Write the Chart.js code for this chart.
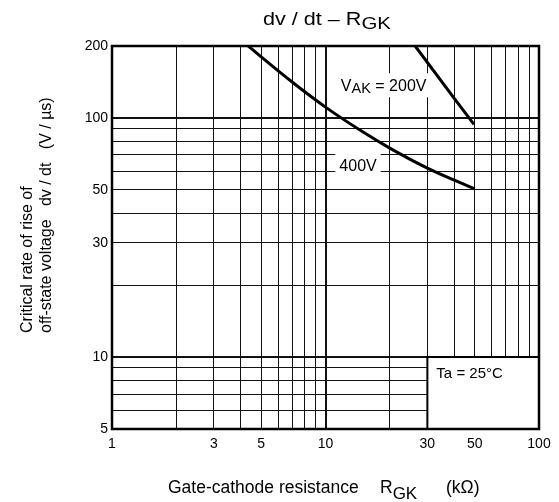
<!DOCTYPE html>
<html lang="en">
<head>
    <meta charset="UTF-8">
    <title>dv/dt - RGK</title>
    <script src="https://cdn.jsdelivr.net/npm/chart.js@4.4.1/dist/chart.umd.min.js"></script>
    <style>
        body { margin: 0; background: #fff; }
        .wrap { width: 559px; height: 502px; position: relative; }
    </style>
</head>
<body>
<div class="wrap"><canvas id="dvdtChart"></canvas></div>
<script>
    // values
    const rgk200 = [26.3, 40, 49.6];
    const dvdt200 = [200, 121, 94];
    const rgk400 = [4.35, 5, 7, 10, 15, 20, 30, 50];
    const dvdt400 = [200, 180, 141, 111, 87.3, 74.8, 61.7, 50.5];

    const xGrid = [1, 2, 3, 4, 5, 6, 7, 8, 9, 10, 20, 30, 40, 50, 60, 70, 80, 90, 100];
    const yGrid = [5, 6, 7, 8, 9, 10, 20, 30, 40, 50, 60, 70, 80, 90, 100, 200];
    const xLabels = [1, 3, 5, 10, 30, 50, 100];
    const yLabels = [5, 10, 30, 50, 100, 200];

    const FONT = "'Liberation Sans', Arial, sans-serif";

    function pts(xs, ys) {
        return xs.map((x, i) => ({ x: x, y: ys[i] }));
    }

    // draws pieces of text, some of them dropped as subscripts
    function subText(ctx, parts, x, y, size, subSize, drop) {
        let cx = x;
        parts.forEach(p => {
            ctx.font = (p.sub ? subSize : size) + 'px ' + FONT;
            if (p.at !== undefined) cx = p.at;
            ctx.fillText(p.t, cx, p.sub ? y + drop : y);
            cx += ctx.measureText(p.t).width;
        });
        return cx;
    }

    const decor = {
        id: 'decor',
        beforeDatasetsDraw(chart) {
            const { ctx, scales: { x, y } } = chart;
            // Ta box in lower right corner
            const l = x.getPixelForValue(30), r = x.getPixelForValue(100);
            const t = y.getPixelForValue(10), b = y.getPixelForValue(5);
            ctx.save();
            ctx.fillStyle = '#fff';
            ctx.fillRect(l, t, r - l, b - t);
            ctx.strokeStyle = '#000';
            ctx.lineWidth = 2;
            ctx.strokeRect(l, t, r - l, b - t);
            ctx.fillStyle = '#000';
            ctx.font = '15px ' + FONT;
            ctx.textBaseline = 'middle';
            ctx.fillText('Ta = 25°C', l + 9, t + 17);
            ctx.restore();
        },
        afterDatasetsDraw(chart) {
            const { ctx, chartArea: a, scales: { x, y } } = chart;
            ctx.save();
            ctx.textBaseline = 'alphabetic';

            // curve labels with white background
            let px = x.getPixelForValue(11.8), py = y.getPixelForValue(137);
            ctx.fillStyle = '#fff';
            ctx.fillRect(px - 3, py - 12, 93, 24);
            ctx.fillStyle = '#000';
            subText(ctx, [{ t: 'V' }, { t: 'AK', sub: true }, { t: ' = 200V' }], px, py + 6, 16, 14.5, 2);

            ctx.font = '16px ' + FONT;
            const w = ctx.measureText('400V').width;
            px = x.getPixelForValue(14.2); py = y.getPixelForValue(63.6);
            ctx.fillStyle = '#fff';
            ctx.fillRect(px - w / 2 - 4, py - 11, w + 8, 22);
            ctx.fillStyle = '#000';
            ctx.textAlign = 'center';
            ctx.fillText('400V', px, py + 6);
            ctx.textAlign = 'left';

            // frame
            ctx.strokeStyle = '#000';
            ctx.lineWidth = 2.5;
            ctx.strokeRect(a.left, a.top, a.right - a.left, a.bottom - a.top);

            // title, stretched a little to the datasheet's width
            ctx.save();
            ctx.translate(263, 25);
            ctx.scale(1.2, 1);
            subText(ctx, [{ t: 'dv / dt – R' }, { t: 'GK', sub: true }], 0, 0, 18, 17, 4);
            ctx.restore();

            // x axis title
            subText(ctx, [
                { t: 'Gate-cathode resistance' },
                { t: 'R', at: 380 },
                { t: 'GK', sub: true },
                { t: '(kΩ)', at: 446 }
            ], 168, 493, 17.5, 17, 5.5);

            // y axis title, rotated
            ctx.translate(0, 333);
            ctx.rotate(-Math.PI / 2);
            ctx.font = '16px ' + FONT;
            ctx.textBaseline = 'middle';
            ctx.fillText('Critical rate of rise of', 0, 28);
            ctx.fillText('off-state voltage   dv / dt   (V / µs)', 0, 47);
            ctx.restore();
        }
    };

    function gridWidth(edges, thick) {
        return c => {
            const v = c.tick ? c.tick.value : null;
            if (edges.includes(v)) return 0;
            if (thick.includes(v)) return 2;
            return 1;
        };
    }

    new Chart(document.getElementById('dvdtChart'), {
        type: 'scatter',
        data: {
            datasets: [
                { label: '200V', data: pts(rgk200, dvdt200), showLine: true, borderColor: '#000', borderWidth: 3, pointRadius: 0, tension: 0 },
                { label: '400V', data: pts(rgk400, dvdt400), showLine: true, borderColor: '#000', borderWidth: 3, pointRadius: 0, cubicInterpolationMode: 'monotone' }
            ]
        },
        options: {
            responsive: true,
            maintainAspectRatio: false,
            animation: false,
            layout: { padding: { top: 46, right: 20, left: 0, bottom: 0 } },
            plugins: { legend: { display: false }, tooltip: { enabled: false } },
            scales: {
                x: {
                    type: 'logarithmic', min: 1, max: 100,
                    afterBuildTicks: s => { s.ticks = xGrid.map(v => ({ value: v })); },
                    afterFit: s => { s.height = 73; },
                    ticks: {
                        autoSkip: false, maxRotation: 0, padding: 7, color: '#000',
                        font: { family: FONT, size: 14 },
                        callback: v => xLabels.includes(v) ? String(v) : ''
                    },
                    grid: { color: '#111', lineWidth: gridWidth([1, 100], [10]), drawTicks: false },
                    border: { display: false }
                },
                y: {
                    type: 'logarithmic', min: 5, max: 200,
                    afterBuildTicks: s => { s.ticks = yGrid.map(v => ({ value: v })); },
                    afterFit: s => { s.width = 112; },
                    ticks: {
                        autoSkip: false, padding: 4, color: '#000',
                        font: { family: FONT, size: 14 },
                        callback: v => yLabels.includes(v) ? String(v) : ''
                    },
                    grid: { color: '#111', lineWidth: gridWidth([5, 200], [10, 100]), drawTicks: false },
                    border: { display: false }
                }
            }
        },
        plugins: [decor]
    });
</script>
</body>
</html>
